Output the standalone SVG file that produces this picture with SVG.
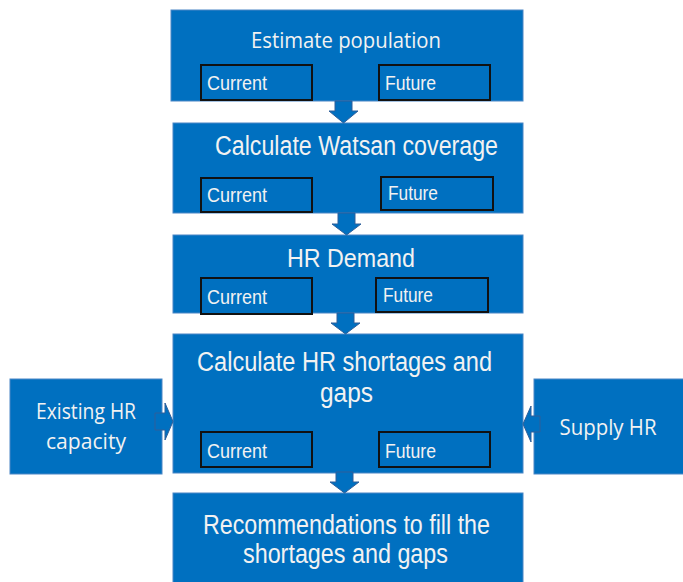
<svg xmlns="http://www.w3.org/2000/svg" width="683" height="582" viewBox="0 0 683 582">
<style>
.box{fill:#0070C0;stroke:#4A86C5;stroke-width:1}
.sub{fill:#0070C0;stroke:#111;stroke-width:2}
.t{fill:#F2F2F2;font-family:"Liberation Sans",Arial,sans-serif}
.c{fill:#F2F2F2;font-family:"Open Sans","Liberation Sans",sans-serif}
.arr{fill:#0070C0;stroke:#2F5F9A;stroke-width:1}
</style>
<rect width="683" height="582" fill="#fff"/>
<g id="n1">
<rect class="box" x="171" y="10" width="352" height="91"/>
<text class="c" x="346" y="48" font-size="21" text-anchor="middle" textLength="190" lengthAdjust="spacingAndGlyphs">Estimate population</text>
<rect class="sub" x="201" y="65" width="111" height="35"/>
<text class="t" x="207" y="90" font-size="21" textLength="60" lengthAdjust="spacingAndGlyphs">Current</text>
<rect class="sub" x="379" y="65" width="111" height="35"/>
<text class="t" x="385" y="90" font-size="21" textLength="51" lengthAdjust="spacingAndGlyphs">Future</text>
</g>
<g id="n2">
<rect class="box" x="173" y="123" width="350" height="90"/>
<text class="t" x="215" y="155" font-size="27" textLength="283" lengthAdjust="spacingAndGlyphs">Calculate Watsan coverage</text>
<rect class="sub" x="201" y="178" width="111" height="34"/>
<text class="t" x="207" y="202" font-size="21" textLength="60" lengthAdjust="spacingAndGlyphs">Current</text>
<rect class="sub" x="381" y="177" width="112" height="33"/>
<text class="t" x="388" y="200" font-size="21" textLength="50" lengthAdjust="spacingAndGlyphs">Future</text>
</g>
<g id="n3">
<rect class="box" x="173" y="235" width="350" height="78"/>
<text class="t" x="287" y="267" font-size="26" textLength="128" lengthAdjust="spacingAndGlyphs">HR Demand</text>
<rect class="sub" x="201" y="278" width="111" height="36"/>
<text class="t" x="207" y="304" font-size="21" textLength="60" lengthAdjust="spacingAndGlyphs">Current</text>
<rect class="sub" x="376" y="278" width="112" height="34"/>
<text class="t" x="383" y="302" font-size="21" textLength="50" lengthAdjust="spacingAndGlyphs">Future</text>
</g>
<g id="n4">
<rect class="box" x="173" y="334" width="350" height="139"/>
<text class="t" x="197" y="371" font-size="27" textLength="295" lengthAdjust="spacingAndGlyphs">Calculate HR shortages and</text>
<text class="t" x="320" y="402" font-size="27" textLength="53" lengthAdjust="spacingAndGlyphs">gaps</text>
<rect class="sub" x="201" y="432" width="111" height="35"/>
<text class="t" x="207" y="458" font-size="21" textLength="60" lengthAdjust="spacingAndGlyphs">Current</text>
<rect class="sub" x="379" y="432" width="111" height="35"/>
<text class="t" x="385" y="458" font-size="21" textLength="51" lengthAdjust="spacingAndGlyphs">Future</text>
</g>
<g id="n5">
<rect class="box" x="10" y="379" width="152" height="95"/>
<text class="c" x="86" y="419" font-size="22" text-anchor="middle" textLength="100" lengthAdjust="spacingAndGlyphs">Existing HR</text>
<text class="c" x="86" y="449" font-size="22" text-anchor="middle" textLength="80" lengthAdjust="spacingAndGlyphs">capacity</text>
</g>
<g id="n6">
<rect class="box" x="534" y="379" width="155" height="95"/>
<text class="c" x="608" y="435" font-size="22" text-anchor="middle" textLength="97" lengthAdjust="spacingAndGlyphs">Supply HR</text>
</g>
<g id="n7">
<rect class="box" x="173" y="493" width="350" height="95"/>
<text class="t" x="203" y="534" font-size="27" textLength="287" lengthAdjust="spacingAndGlyphs">Recommendations to fill the</text>
<text class="t" x="243" y="563" font-size="27" textLength="205" lengthAdjust="spacingAndGlyphs">shortages and gaps</text>
</g>
<g id="connectors">
<path class="arr" d="M335,101 H352 V111 H358 L343.5,123 L329,111 H335 Z"/>
<path class="arr" d="M338,213 H355 V224 H361 L346.5,235 L332,224 H338 Z"/>
<path class="arr" d="M337,313 H354 V323 H360 L345.5,334 L331,323 H337 Z"/>
<path class="arr" d="M336,472 H353 V482 H359 L344.5,493 L330,482 H336 Z"/>
<path class="arr" d="M155,413 H165 V403 L173,421.5 L165,440 V430 H155 Z"/>
<path class="arr" d="M540,416 H531 V406 L523,424 L531,442 V432 H540 Z"/>
</g>
</svg>
